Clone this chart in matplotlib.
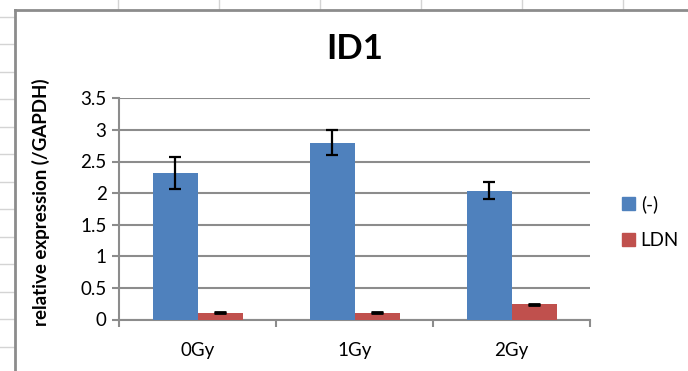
import matplotlib
matplotlib.use("Agg")
import matplotlib.pyplot as plt
from matplotlib.lines import Line2D
from matplotlib.patches import Patch
import numpy as np

plt.rcParams['font.family'] = ['Lato', 'DejaVu Sans']

categories = ["0Gy", "1Gy", "2Gy"]
series_names = ["(-)", "LDN"]
ctrl_vals = [2.32, 2.80, 2.04]
ctrl_err = [0.25, 0.20, 0.13]
ldn_vals = [0.105, 0.105, 0.24]
ldn_err = [0.01, 0.01, 0.012]
yticks = [0, 0.5, 1, 1.5, 2, 2.5, 3, 3.5]
ytick_labels = ["0", "0.5", "1", "1.5", "2", "2.5", "3", "3.5"]

W, H = 688, 371
fig = plt.figure(figsize=(W / 100, H / 100), dpi=100)
fig.patch.set_facecolor("white")

# spreadsheet background cell borders
grid_c = "#d4d4d4"
for x in [118, 219, 320, 421, 522, 623]:
    fig.add_artist(Line2D([x / W, x / W], [1, 1 - 10 / H], color=grid_c, lw=1))
for y in np.arange(16.7, 371, 27.5):
    fig.add_artist(Line2D([0, 14 / W], [1 - y / H, 1 - y / H], color=grid_c, lw=1))
# chart border
bc = "#8c8c8c"
fig.add_artist(Line2D([15 / W, 15 / W], [0, 1 - 10 / H], color=bc, lw=2))
fig.add_artist(Line2D([15 / W, 1], [1 - 10 / H, 1 - 10 / H], color=bc, lw=2))

x0, x1 = 119, 590
y0, y1 = 319.5, 98.3
ax = fig.add_axes([x0 / W, 1 - y0 / H, (x1 - x0) / W, (y0 - y1) / H])

blue = "#4F81BD"
red = "#C0504D"
idx = np.arange(len(categories)) + 0.5
bw = 45 / 157
ax.bar(idx - bw / 2, ctrl_vals, bw, color=blue, zorder=3,
       yerr=ctrl_err, error_kw=dict(ecolor="black", elinewidth=1.6, capsize=4, capthick=1.6, zorder=4))
ax.bar(idx + bw / 2, ldn_vals, bw, color=red, zorder=3,
       yerr=ldn_err, error_kw=dict(ecolor="black", elinewidth=1.6, capsize=4, capthick=2, zorder=4))

ax.set_xlim(0, len(categories))
ax.set_ylim(0, 3.5)
ax.set_yticks(yticks)
ax.set_yticklabels(ytick_labels, fontsize=13.5)
ax.yaxis.grid(True, color="#8c8c8c", lw=1.5, zorder=0)
ax.set_axisbelow(True)

ax.set_xticks(np.arange(len(categories) + 1))
ax.set_xticklabels([])
ax.set_xticks(idx, minor=True)
ax.set_xticklabels(categories, minor=True, fontsize=13.5)
ax.tick_params(axis="x", which="major", length=5, color="#8c8c8c", width=1.5, direction="out")
ax.tick_params(axis="x", which="minor", length=0, pad=16)
ax.tick_params(axis="y", length=5, color="#8c8c8c", width=1.5, pad=4)

for s in ["top", "right"]:
    ax.spines[s].set_visible(False)
for s in ["left", "bottom"]:
    ax.spines[s].set_color("#8c8c8c")
    ax.spines[s].set_linewidth(1.5)

fig.text(355 / W, 1 - 49 / H, "ID1", fontsize=25, fontweight="bold", ha="center", va="center")
fig.text(41 / W, 1 - 202 / H, "relative expression (/GAPDH)", fontsize=13.5, fontweight="bold",
         rotation=90, ha="center", va="center")

handles = [Patch(facecolor=blue, edgecolor=blue), Patch(facecolor=red, edgecolor=red)]
fig.legend(handles, series_names, loc="center left", bbox_to_anchor=(605 / W, 1 - 222 / H),
           frameon=False, fontsize=13.5, handlelength=0.7, handleheight=0.7,
           handletextpad=0.3, labelspacing=1.0)

fig.savefig("out.png", dpi=100)
